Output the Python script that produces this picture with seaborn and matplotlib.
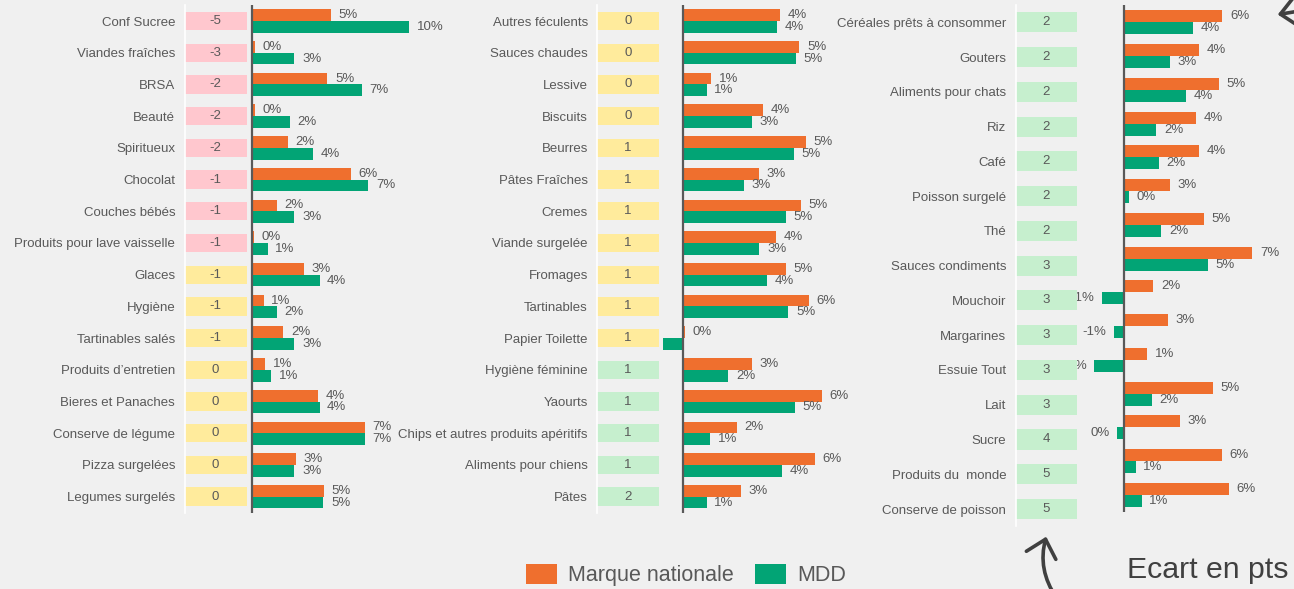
import numpy as np
import pandas as pd
import matplotlib
matplotlib.use("Agg")
import matplotlib.pyplot as plt
import seaborn as sns
from matplotlib.patches import Patch, FancyArrowPatch

# ---------------- data ----------------
left_categories = ["Conf Sucree", "Viandes fraîches", "BRSA", "Beauté", "Spiritueux", "Chocolat",
                   "Couches bébés", "Produits pour lave vaisselle", "Glaces", "Hygiène",
                   "Tartinables salés", "Produits d’entretien", "Bieres et Panaches",
                   "Conserve de légume", "Pizza surgelées", "Legumes surgelés"]
left_ecart = [-5, -3, -2, -2, -2, -1, -1, -1, -1, -1, -1, 0, 0, 0, 0, 0]
left_group = ["neg"] * 8 + ["neu"] * 8
left_nationale = [5.0, 0.17, 4.8, 0.2, 2.3, 6.3, 1.6, 0.1, 3.3, 0.74, 2.0, 0.85, 4.2, 7.2, 2.8, 4.6]
left_mdd = [10.0, 2.7, 7.0, 2.4, 3.9, 7.4, 2.7, 1.0, 4.3, 1.6, 2.7, 1.2, 4.3, 7.2, 2.7, 4.55]

mid_categories = ["Autres féculents", "Sauces chaudes", "Lessive", "Biscuits", "Beurres",
                  "Pâtes Fraîches", "Cremes", "Viande surgelée", "Fromages", "Tartinables",
                  "Papier Toilette", "Hygiène féminine", "Yaourts",
                  "Chips et autres produits apéritifs", "Aliments pour chiens", "Pâtes"]
mid_ecart = [0, 0, 0, 0, 1, 1, 1, 1, 1, 1, 1, 1, 1, 1, 1, 2]
mid_group = ["neu"] * 11 + ["pos"] * 5
mid_nationale = [4.3, 5.16, 1.23, 3.53, 5.45, 3.36, 5.23, 4.12, 4.55, 5.57, 0.09, 3.05, 6.15, 2.39, 5.85, 2.56]
mid_mdd = [4.16, 5.0, 1.04, 3.04, 4.92, 2.71, 4.55, 3.38, 3.72, 4.67, -0.9, 2.0, 4.95, 1.19, 4.37, 1.04]

right_categories = ["Céréales prêts à consommer", "Gouters", "Aliments pour chats", "Riz", "Café",
                    "Poisson surgelé", "Thé", "Sauces condiments", "Mouchoir", "Margarines",
                    "Essuie Tout", "Lait", "Sucre", "Produits du  monde", "Conserve de poisson"]
right_ecart = [2, 2, 2, 2, 2, 2, 2, 3, 3, 3, 3, 3, 4, 5, 5]
right_group = ["pos"] * 15
right_nationale = [5.64, 4.3, 5.45, 4.15, 4.32, 2.66, 4.57, 7.35, 1.69, 2.51, 1.35, 5.1, 3.2, 5.63, 6.0]
right_mdd = [3.98, 2.65, 3.54, 1.86, 2.0, 0.32, 2.15, 4.8, -1.26, -0.55, -1.68, 1.62, -0.37, 0.69, 1.03]

series_names = ["Marque nationale", "MDD"]

# ---------------- style ----------------
BG = "#F0F0F0"
ORANGE = "#EF6F2E"
GREEN = "#02A475"
TXT = "#595959"
AXIS = "#595959"
BOX = {"neg": "#FFC7CE", "neu": "#FFEB9C", "pos": "#C6EFCE"}
PALETTE = {"Marque nationale": ORANGE, "MDD": GREEN}

sns.set_theme(style="white")
plt.rcParams["font.family"] = ["Liberation Sans", "DejaVu Sans"]

W, H = 1294, 589
fig = plt.figure(figsize=(W / 100, H / 100), dpi=100, facecolor=BG)


def px_axes(x0, y0, x1, y1):
    return fig.add_axes([x0 / W, 1 - y1 / H, (x1 - x0) / W, (y1 - y0) / H])


def fmt(v):
    return f"{int(np.rint(v))}%"


panels = [
    dict(cats=left_categories, ecart=left_ecart, group=left_group, nat=left_nationale, mdd=left_mdd,
         zero=252.0, scale=15.7, xmin=-0.3, xmax=11.0, bar_top=5.2, bar_bot=512.5,
         lab_top=5.2, lab_bot=512.5, box_x0=184.5, box_x1=246.7, width=0.74),
    dict(cats=mid_categories, ecart=mid_ecart, group=mid_group, nat=mid_nationale, mdd=mid_mdd,
         zero=683.3, scale=22.5, xmin=-1.5, xmax=7.0, bar_top=5.2, bar_bot=512.5,
         lab_top=5.2, lab_bot=512.5, box_x0=597.2, box_x1=659.0, width=0.74),
    dict(cats=right_categories, ecart=right_ecart, group=right_group, nat=right_nationale, mdd=right_mdd,
         zero=1123.7, scale=17.5, xmin=-2.2, xmax=8.0, bar_top=5.4, bar_bot=511.9,
         lab_top=4.9, lab_bot=526.4, box_x0=1015.5, box_x1=1077.3, width=0.71),
]

for p in panels:
    cats = p["cats"]
    n = len(cats)
    # bar chart
    bx = px_axes(p["zero"] + p["xmin"] * p["scale"], p["bar_top"],
                 p["zero"] + p["xmax"] * p["scale"], p["bar_bot"])
    df = pd.DataFrame({
        "cat": list(cats) * 2,
        "val": list(p["nat"]) + list(p["mdd"]),
        "serie": [series_names[0]] * n + [series_names[1]] * n,
    })
    sns.barplot(data=df, x="val", y="cat", hue="serie", order=cats, hue_order=series_names,
                palette=PALETTE, orient="h", width=p["width"], dodge=True, ax=bx,
                legend=False, errorbar=None, saturation=1, linewidth=0)
    bx.set_xlim(p["xmin"], p["xmax"])
    bx.set_ylim(n - 0.5, -0.5)
    bx.axis("off")
    bx.axvline(0, color=AXIS, lw=1.6, zorder=3)
    for cont in bx.containers:
        bx.bar_label(cont, labels=[fmt(v) for v in cont.datavalues], padding=5.5,
                     fontsize=9.5, color=TXT)

    # category label + ecart boxes
    lx = px_axes(p["box_x0"], p["lab_top"], p["box_x1"], p["lab_bot"])
    lx.set_facecolor("none")
    cont = lx.barh(range(n), [1] * n, left=0, height=0.58,
                   color=[BOX[g] for g in p["group"]], linewidth=0)
    lx.bar_label(cont, labels=[str(v) for v in p["ecart"]], label_type="center",
                 fontsize=9.5, color=TXT)
    lx.set_xlim(0, 1)
    lx.set_ylim(n - 0.5, -0.5)
    lx.set_xticks([])
    lx.set_yticks(range(n))
    lx.set_yticklabels(cats, fontsize=9.5, color=TXT)
    lx.tick_params(axis="y", length=0, pad=6.7)
    for s in ["top", "right", "bottom"]:
        lx.spines[s].set_visible(False)
    lx.spines["left"].set_color("white")
    lx.spines["left"].set_linewidth(1.2)

# legend
handles = [Patch(facecolor=PALETTE[s], edgecolor="none", label=s) for s in series_names]
fig.legend(handles=handles, loc="center", bbox_to_anchor=(686 / W, 1 - 575 / H), ncol=2,
           frameon=False, fontsize=15.5, handlelength=1.44, handleheight=1.07,
           handletextpad=0.5, columnspacing=1.0, labelcolor=TXT)

# annotation
fig.text(1127.0 / W, 1 - 577.5 / H, "Ecart en pts", fontsize=21.8, color="#404040",
         ha="left", va="baseline")


def fx(x):
    return x / W


def fy(y):
    return 1 - y / H


arr1 = FancyArrowPatch(posA=(fx(1058), fy(600)), posB=(fx(1047), fy(534)),
                       transform=fig.transFigure, connectionstyle="arc3,rad=-0.25",
                       arrowstyle="->,head_length=0.6,head_width=0.55", mutation_scale=20,
                       color="#404040", lw=2.6)
fig.add_artist(arr1)
arr2 = FancyArrowPatch(posA=(fx(1330), fy(6)), posB=(fx(1275), fy(15)),
                       transform=fig.transFigure, connectionstyle="arc3,rad=0.0",
                       arrowstyle="->,head_length=0.6,head_width=0.55", mutation_scale=20,
                       color="#404040", lw=2.6)
fig.add_artist(arr2)

fig.savefig("out.png", dpi=100, facecolor=BG)
